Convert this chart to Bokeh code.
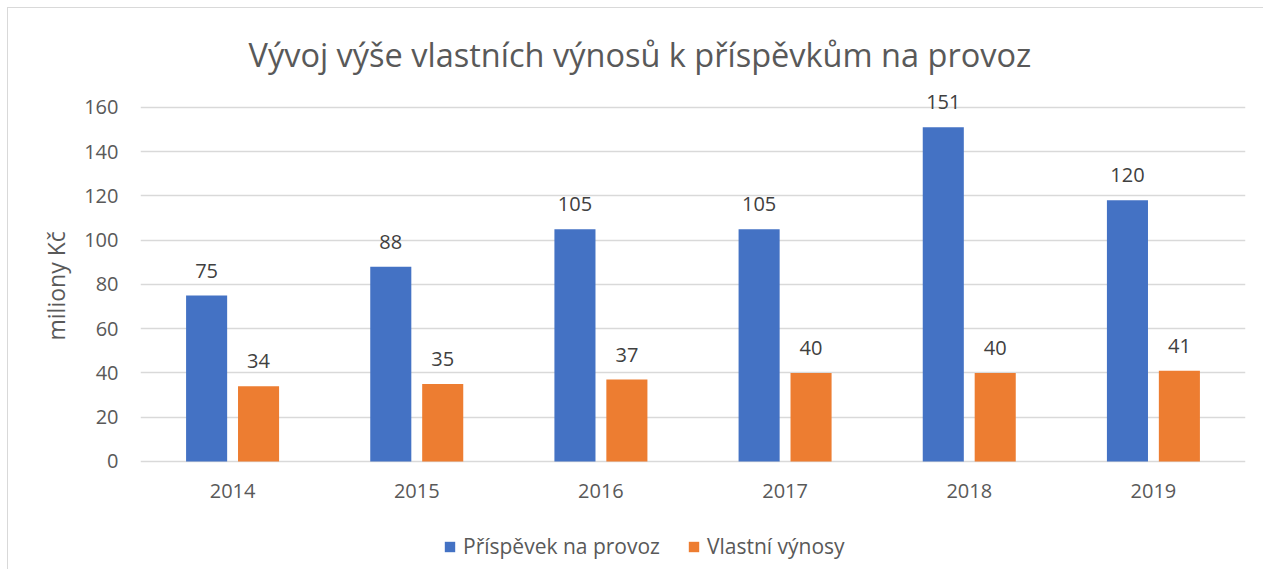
from bokeh.plotting import figure
from bokeh.models import (ColumnDataSource, FactorRange, Range1d, Legend, LegendItem,
                          FixedTicker, Title)
from bokeh.transform import dodge
from bokeh.core.properties import value
from bokeh.embed import file_html
from bokeh.resources import INLINE

years = ["2014", "2015", "2016", "2017", "2018", "2019"]
prispevek = [75, 88, 105, 105, 151, 118]
prispevek_labels = ["75", "88", "105", "105", "151", "120"]
vynosy = [34, 35, 37, 40, 40, 41]
vynosy_labels = ["34", "35", "37", "40", "40", "41"]
y_ticks = [0, 20, 40, 60, 80, 100, 120, 140, 160]

FONT = "Open Sans"
BLUE = "#4472C4"
ORANGE = "#ED7D31"
GREY_TXT = "#595959"

src = ColumnDataSource(dict(years=years, p=prispevek, pl=prispevek_labels,
                            v=vynosy, vl=vynosy_labels))

p = figure(x_range=FactorRange(*years, range_padding=0), y_range=Range1d(-47, 168.1),
           width=1256, height=562, output_backend="svg", toolbar_location=None,
           min_border_left=132, min_border_right=19, min_border_top=81,
           min_border_bottom=5)
p.styles = {"border-left": "1px solid #d9d9d9", "border-top": "1px solid #d9d9d9",
            "margin-left": "7px", "margin-top": "7px"}
p.outline_line_color = None

p.title.text = "Vývoj výše vlastních výnosů k příspěvkům na provoz"
p.title.align = "left"
p.title.offset = 108
p.title.text_font = FONT
p.title.text_font_style = "normal"
p.title.text_font_size = "32.5px"
p.title.text_color = GREY_TXT
p.title.standoff = 26

off = 0.141
w = 0.223
r1 = p.vbar(x=dodge("years", -off, range=p.x_range), top="p", width=w, source=src,
            fill_color=BLUE, line_color=None)
r2 = p.vbar(x=dodge("years", off, range=p.x_range), top="v", width=w, source=src,
            fill_color=ORANGE, line_color=None)

for col, lab, o in (("p", "pl", -off), ("v", "vl", off)):
    p.text(x=dodge("years", o, range=p.x_range), y=col, text=lab, source=src,
           text_align="center", text_baseline="alphabetic", y_offset=-25,
           text_font=value(FONT), text_font_size="20px", text_color="#404040")

p.xgrid.grid_line_color = None
p.ygrid.grid_line_color = "#d9d9d9"
p.ygrid.grid_line_width = 1.3
p.yaxis.ticker = FixedTicker(ticks=y_ticks)
p.xaxis.fixed_location = 0

for ax in (p.xaxis[0], p.yaxis[0]):
    ax.axis_line_color = None
    ax.major_tick_line_color = None
    ax.minor_tick_line_color = None
    ax.major_label_text_font = FONT
    ax.major_label_text_font_size = "20px"
    ax.major_label_text_color = GREY_TXT
p.yaxis.major_label_standoff = 16
p.xaxis.major_label_standoff = 17

# y-axis title, placed beside the 0..160 gridded area
ytitle = Title(text="miliony Kč", align="left", offset=225, standoff=20,
               text_font=FONT, text_font_style="normal", text_font_size="23px",
               text_color=GREY_TXT)
p.add_layout(ytitle, "left")

legend = Legend(items=[LegendItem(label="Příspěvek na provoz", renderers=[r1]),
                       LegendItem(label="Vlastní výnosy", renderers=[r2])],
                orientation="horizontal", location=(303, 5),
                label_text_font=FONT, label_text_font_size="21px",
                label_text_color=GREY_TXT, glyph_width=13, glyph_height=13,
                label_height=20, spacing=27, label_standoff=7,
                border_line_color=None, background_fill_alpha=0,
                margin=0, padding=0)
p.add_layout(legend, "center")

open("out.html", "w").write(file_html(p, INLINE))
